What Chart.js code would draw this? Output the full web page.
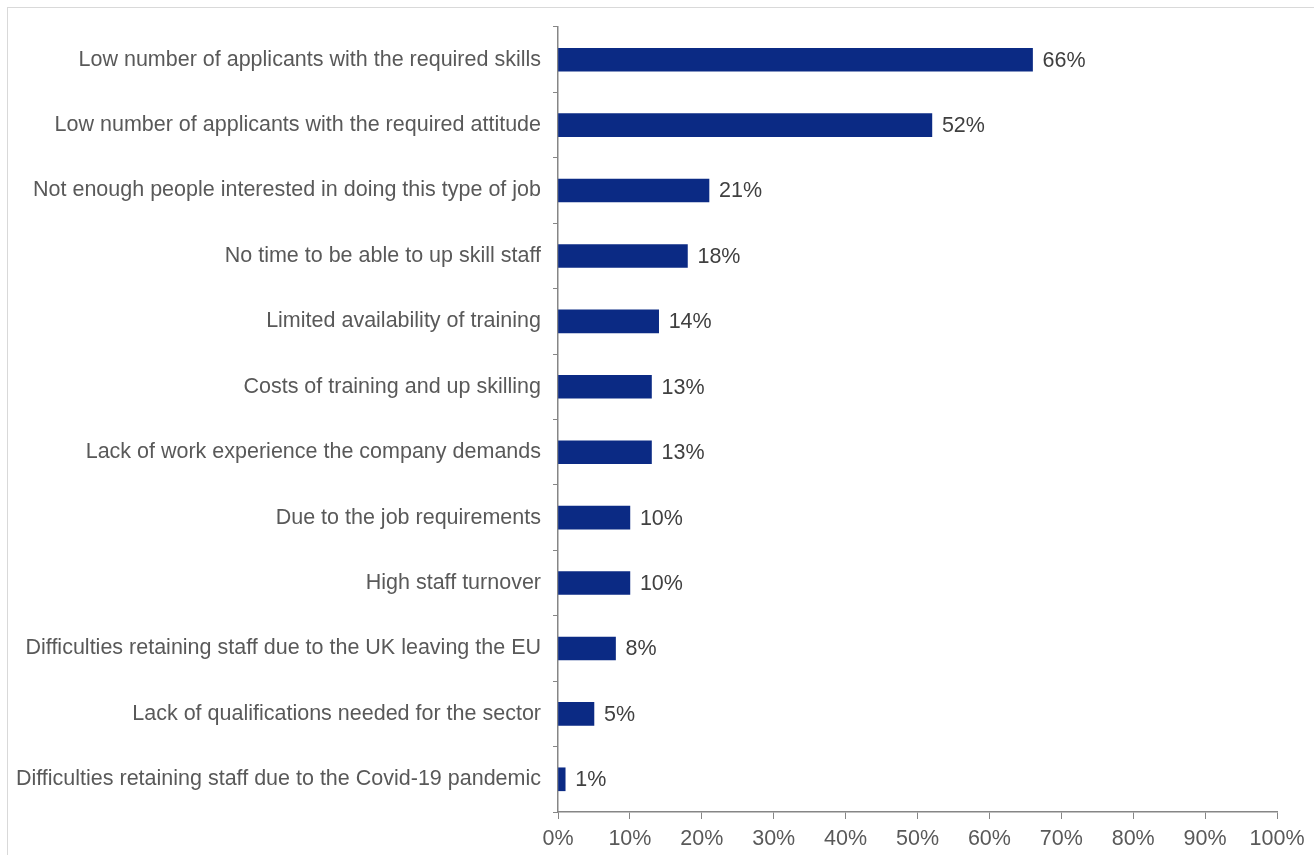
<!DOCTYPE html>
<html>
<head>
<meta charset="utf-8">
<script src="https://cdn.jsdelivr.net/npm/chart.js@4"></script>
<style>
  html, body { margin: 0; padding: 0; background: #fff; }
  #wrap { position: relative; width: 1314px; height: 855px; overflow: hidden; }
  #frame { position: absolute; left: 7px; top: 7px; width: 1320px; height: 860px; border: 1px solid #d9d9d9; box-sizing: border-box; }
  canvas { position: absolute; left: 0; top: 0; }
</style>
</head>
<body>
<div id="wrap">
  <div id="frame"></div>
  <canvas id="c" width="1314" height="855"></canvas>
</div>
<script>
const categories = [
  "Low number of applicants with the required skills",
  "Low number of applicants with the required attitude",
  "Not enough people interested in doing this type of job",
  "No time to be able to up skill staff",
  "Limited availability of training",
  "Costs of training and up skilling",
  "Lack of work experience the company demands",
  "Due to the job requirements",
  "High staff turnover",
  "Difficulties retaining staff due to the UK leaving the EU",
  "Lack of qualifications needed for the sector",
  "Difficulties retaining staff due to the Covid-19 pandemic"
];
const values = [66, 52, 21, 18, 14, 13, 13, 10, 10, 8, 5, 1];
const xTicks = [0, 10, 20, 30, 40, 50, 60, 70, 80, 90, 100];

const FONT = "'Liberation Sans', Arial, sans-serif";

const valueLabels = {
  id: 'valueLabels',
  afterDatasetsDraw(chart) {
    const ctx = chart.ctx;
    const meta = chart.getDatasetMeta(0);
    ctx.save();
    ctx.font = "21.5px " + FONT;
    ctx.fillStyle = '#404040';
    ctx.textAlign = 'left';
    ctx.textBaseline = 'middle';
    meta.data.forEach((bar, i) => {
      ctx.fillText(values[i] + '%', bar.x + 10, bar.y + 1);
    });
    ctx.restore();
  }
};

new Chart(document.getElementById('c'), {
  type: 'bar',
  data: {
    labels: categories,
    datasets: [{
      data: values,
      backgroundColor: '#0b2a84',
      borderWidth: 0,
      barThickness: 23
    }]
  },
  options: {
    indexAxis: 'y',
    responsive: false,
    animation: false,
    devicePixelRatio: 1,
    layout: { padding: { left: 0, right: 37, top: 27, bottom: 0 } },
    plugins: { legend: { display: false }, tooltip: { enabled: false } },
    scales: {
      y: {
        offset: true,
        grid: { display: true, drawOnChartArea: false, drawTicks: true, tickLength: 5, color: '#868686', offset: true },
        border: { display: true, color: '#868686', width: 1.5 },
        ticks: { color: '#595959', font: { family: FONT, size: 21.5 }, padding: 12, autoSkip: false },
        afterFit(scale) { scale.width = 558; }
      },
      x: {
        min: 0, max: 100,
        afterBuildTicks(scale) { scale.ticks = xTicks.map(v => ({ value: v })); },
        grid: { display: true, drawOnChartArea: false, drawTicks: true, tickLength: 7, color: '#868686' },
        border: { display: true, color: '#868686', width: 1.5 },
        ticks: { color: '#595959', font: { family: FONT, size: 21.5 }, padding: 7, callback: v => v + '%', maxRotation: 0 },
        afterFit(scale) { scale.height = 43; }
      }
    }
  },
  plugins: [valueLabels]
});
</script>
</body>
</html>
